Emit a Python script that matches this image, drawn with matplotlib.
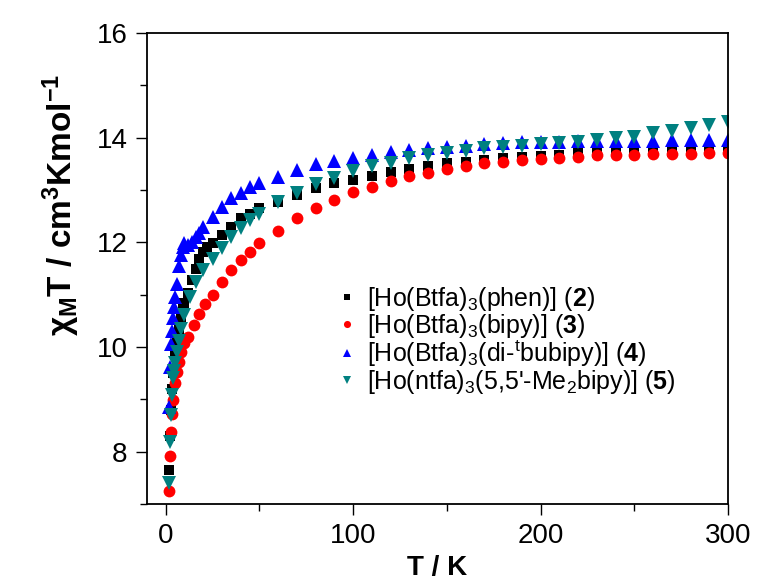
import matplotlib
matplotlib.use("Agg")
import matplotlib.pyplot as plt
from matplotlib.ticker import MultipleLocator

plt.rcParams['font.family'] = ['Liberation Sans', 'DejaVu Sans']
plt.rcParams['mathtext.fontset'] = 'custom'
plt.rcParams['mathtext.rm'] = 'Liberation Sans'
plt.rcParams['mathtext.it'] = 'Liberation Sans:italic'
plt.rcParams['mathtext.bf'] = 'Liberation Sans:bold'
plt.rcParams['mathtext.default'] = 'regular'

# ---- data ----
T_high = [60, 70, 80, 90, 100, 110, 120, 130, 140, 150, 160, 170, 180, 190, 200,
          210, 220, 230, 240, 250, 260, 270, 280, 290, 300]

T_phen_low = [2, 2.5, 3, 3.5, 4, 5, 6, 7, 8, 9, 10, 12, 14, 16, 18, 20, 22, 25, 30, 35, 40, 45, 50]
chi_phen_low = [7.65, 8.30, 8.80, 9.20, 9.50, 9.85, 10.10, 10.35, 10.55, 10.75, 10.85, 11.03,
                11.28, 11.50, 11.69, 11.82, 11.92, 11.98, 12.14, 12.30, 12.46, 12.55, 12.65]
chi_phen_high = [12.78, 12.90, 13.03, 13.13, 13.19, 13.27, 13.35, 13.41, 13.46, 13.51, 13.54,
                 13.57, 13.61, 13.64, 13.65, 13.67, 13.70, 13.71, 13.72, 13.72, 13.73, 13.73,
                 13.75, 13.75, 13.76]

T_bipy_low = [2, 2.5, 3, 3.5, 4, 5, 6, 7, 8, 10, 12, 15, 18, 21, 25, 30, 35, 40, 45, 50]
chi_bipy_low = [7.25, 7.92, 8.38, 8.72, 8.99, 9.31, 9.52, 9.72, 9.90, 10.07, 10.20, 10.42,
                10.64, 10.82, 10.99, 11.25, 11.47, 11.66, 11.82, 11.98]
chi_bipy_high = [12.22, 12.46, 12.65, 12.81, 12.97, 13.06, 13.18, 13.27, 13.33, 13.40, 13.45,
                 13.51, 13.54, 13.57, 13.60, 13.61, 13.64, 13.66, 13.67, 13.67, 13.68, 13.69,
                 13.69, 13.71, 13.71]

T_tbu_low = [2, 2.5, 3, 3.5, 4, 4.5, 5, 6, 7, 8, 9, 10, 12, 14, 16, 18, 20, 25, 30, 35, 40, 45, 50]
chi_tbu_low = [8.86, 9.62, 10.05, 10.30, 10.55, 10.77, 10.96, 11.20, 11.55, 11.75, 11.92, 11.98,
               11.95, 12.00, 12.10, 12.17, 12.30, 12.49, 12.68, 12.84, 12.94, 13.06, 13.13]
chi_tbu_high = [13.25, 13.38, 13.49, 13.56, 13.62, 13.67, 13.72, 13.76, 13.80, 13.83, 13.85,
                13.88, 13.89, 13.91, 13.92, 13.92, 13.93, 13.94, 13.94, 13.94, 13.94, 13.95,
                13.95, 13.95, 13.96]

T_me2_low = [2, 2.5, 3, 3.5, 4, 4.5, 5, 6, 7, 8, 10, 13, 16, 20, 25, 30, 35, 40, 45, 50]
chi_me2_low = [7.40, 8.19, 8.70, 9.08, 9.40, 9.55, 9.70, 9.90, 10.12, 10.35, 10.61, 10.96,
               11.25, 11.47, 11.69, 11.89, 12.11, 12.27, 12.43, 12.55]
chi_me2_high = [12.78, 12.95, 13.11, 13.22, 13.37, 13.45, 13.52, 13.62, 13.67, 13.71, 13.75,
                13.80, 13.82, 13.84, 13.88, 13.89, 13.92, 13.96, 13.99, 14.02, 14.08, 14.13,
                14.18, 14.24, 14.30]

labels = [
    r'[Ho(Btfa)$_3$(phen)] ($\mathbf{2}$)',
    r'[Ho(Btfa)$_3$(bipy)] ($\mathbf{3}$)',
    r'[Ho(Btfa)$_3$(di-$^t$bubipy)] ($\mathbf{4}$)',
    r"[Ho(ntfa)$_3$(5,5'-Me$_2$bipy)] ($\mathbf{5}$)",
]

x_ticks = [0, 100, 200, 300]
y_ticks = [8, 10, 12, 14, 16]

# ---- figure ----
fig = plt.figure(figsize=(7.6, 5.82), dpi=100)
ax = fig.add_axes([147/760, 1-504/582, (728-147)/760, (504-33)/582])

series = [
    (T_phen_low + T_high, chi_phen_low + chi_phen_high, 's', 'black', 7.5),
    (T_bipy_low + T_high, chi_bipy_low + chi_bipy_high, 'o', '#ff0000', 8.5),
    (T_tbu_low + T_high, chi_tbu_low + chi_tbu_high, '^', '#0000ff', 9.5),
    (T_me2_low + T_high, chi_me2_low + chi_me2_high, 'v', '#008080', 9.5),
]
for (t, c, m, col, ms), lab in zip(series, labels):
    ax.plot(t, c, linestyle='none', marker=m, color=col, markersize=ms,
            markeredgewidth=0, label=lab)

ax.set_xlim(-10, 300)
ax.set_ylim(7, 16)
ax.set_xticks(x_ticks)
ax.set_yticks(y_ticks)
ax.xaxis.set_minor_locator(MultipleLocator(50))
ax.yaxis.set_minor_locator(MultipleLocator(1))
ax.tick_params(which='major', direction='out', length=8, width=1.0, labelsize=20, pad=6)
ax.tick_params(which='minor', direction='out', length=5, width=1.0)
ax.tick_params(top=False, right=False)
for sp in ax.spines.values():
    sp.set_linewidth(1.3)

ax.set_xlabel('T / K', fontsize=20, fontweight='bold', labelpad=4)
ax.set_ylabel(r'χ$_{\mathbf{M}}$T / cm$^{\mathbf{3}}$Kmol$^{\mathbf{-1}}$',
              fontsize=24, fontweight='bold')
ax.yaxis.set_label_coords(-0.112, 0.635)

leg = ax.legend(loc='upper left', bbox_to_anchor=(0.33, 0.465), frameon=False,
                fontsize=18, markerscale=0.6, handlelength=0.7, handletextpad=0.45,
                labelspacing=-0.05, borderaxespad=0, borderpad=0)

fig.savefig('out.png', dpi=100)
